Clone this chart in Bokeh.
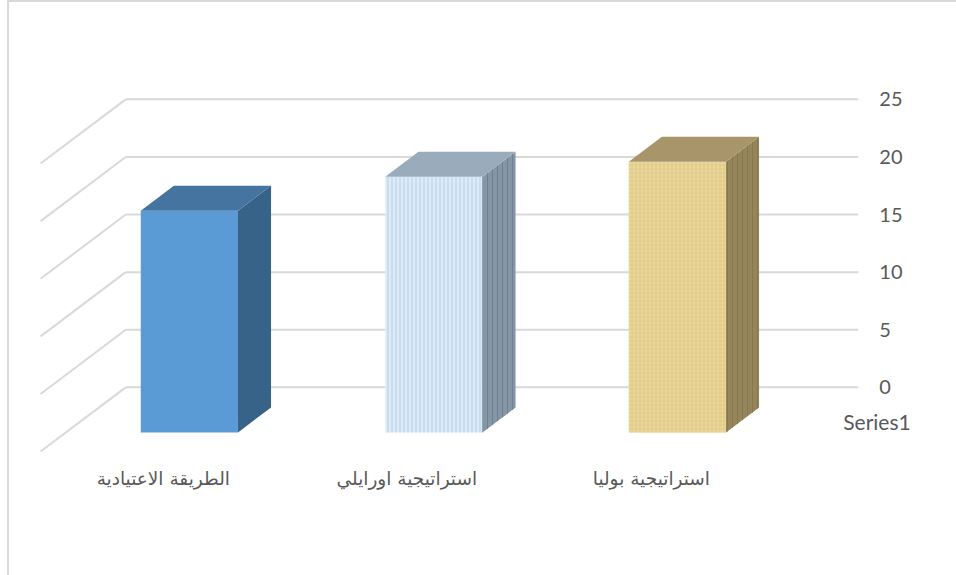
from bokeh.plotting import figure
from bokeh.models import LinearAxis, FixedTicker, Range1d, Label
from bokeh.core.properties import value
from bokeh.embed import file_html
from bokeh.resources import INLINE

categories = ["الطريقة الاعتيادية", "استراتيجية اورايلي", "استراتيجية بوليا"]
values = [19.25, 22.2, 23.5]
ticks = [0, 5, 10, 15, 20, 25]
series_name = "Series1"

# screen geometry of the pseudo-3D scene
PX = 11.48            # pixels per value unit
Y0 = 387              # screen y of value 0 on back wall
W, H = 947, 573
X_OFF, Y_OFF = 10, 3.5  # data coordinate of the plot's top-left corner
def v(py):            # screen y -> value units
    return (Y0 - py) / PX

front_col = ["#5b9bd5", "#dcebf7", "#ead79a"]
side_col = ["#376389", "#8596a6", "#95855a"]
top_col = ["#44749f", "#9aacbc", "#a8966a"]
hatch_pat = [None, "vertical_line", "cross"]
hatch_col = [None, "#b4cfe5", "#e0ca88"]
side_hatch = [None, "vertical_line", "vertical_line"]
side_hatch_col = [None, "#6f8090", "#877850"]
bar_left = [141, 385, 628]
label_center = [163.5, 406.5, 650.5]
bar_w, dx, dy = 97, 33, 25
base = v(432)

p = figure(width=W, height=H, output_backend="svg", toolbar_location=None,
           x_range=Range1d(X_OFF, X_OFF + W), y_range=Range1d(v(Y_OFF + H), v(Y_OFF)),
           x_axis_type=None, y_axis_type=None,
           min_border_left=0, min_border_right=0, min_border_top=0, min_border_bottom=0,
           outline_line_color=None, background_fill_color="white", border_fill_color="white")
p.grid.visible = False
p.styles = {"margin-left": "7px", "box-sizing": "content-box",
            "border-top": "2px solid #d9d9d9", "border-left": "2px solid #d9d9d9"}

ax = LinearAxis(ticker=FixedTicker(ticks=ticks), axis_line_color=None, fixed_location=857,
                major_tick_line_color=None, minor_tick_line_color=None,
                major_label_text_font="Lato", major_label_text_font_size="20px",
                major_label_text_color="#595959", major_label_standoff=15)
p.add_layout(ax, "right")

for t in ticks:
    p.segment(126, t, 857, t, line_color="#d9d9d9", line_width=2)
    p.segment(126, t, 41, t + v(Y0 + 64), line_color="#d9d9d9", line_width=2)

for i, (val, name) in enumerate(zip(values, categories)):
    L, R = bar_left[i], bar_left[i] + bar_w
    tp = base + val
    d = v(Y0 - dy)
    h = {}
    if hatch_pat[i]:
        h = dict(hatch_pattern=hatch_pat[i], hatch_color=hatch_col[i], hatch_scale=4, hatch_weight=1)
    p.patch([L, R, R, L], [base, base, tp, tp], fill_color=front_col[i], line_color=None, **h)
    h2 = {}
    if side_hatch[i]:
        h2 = dict(hatch_pattern=side_hatch[i], hatch_color=side_hatch_col[i], hatch_scale=5, hatch_weight=1)
    p.patch([R, R + dx, R + dx, R], [base, base + d, tp + d, tp], fill_color=side_col[i], line_color=None, **h2)
    p.patch([L, R, R + dx, L + dx], [tp, tp, tp + d, tp + d], fill_color=top_col[i], line_color=None)
    p.text([label_center[i]], [v(478)], text=[name], text_font=value("DejaVu Sans"), text_font_size="18.5px",
           text_color="#595959", text_align="center", text_baseline="middle")

p.add_layout(Label(x=842, y=v(421), text=series_name, text_font="Lato", text_font_size="21px",
                   text_color="#595959", text_baseline="middle"))

open("out.html", "w").write(file_html(p, INLINE))
